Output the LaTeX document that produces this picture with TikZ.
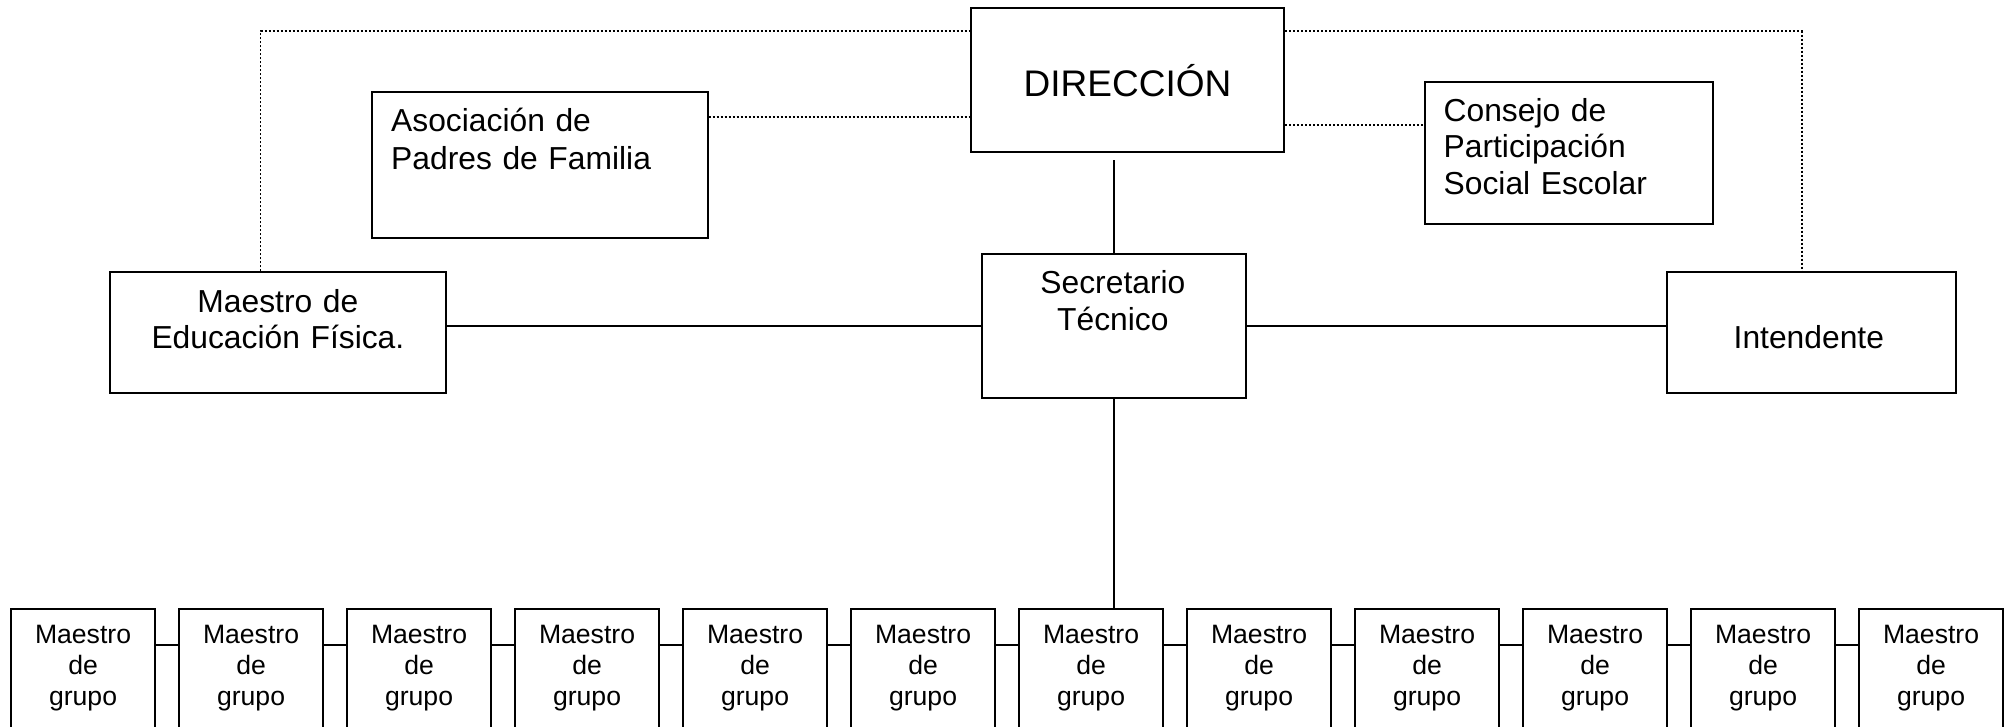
\documentclass[tikz,border=0pt]{standalone}
\usepackage{fontspec}
\setmainfont{Liberation Sans}
\begin{document}
\begin{tikzpicture}[x=1pt,y=-1pt,
  caja/.style={draw,line width=2pt,inner sep=0pt},
  texto/.style={inner sep=0pt,text width=#1},
  linea/.style={line width=1.8pt},
  punteado/.style={line width=1.7pt,dash pattern=on 2.2pt off 1.8pt}]
\useasboundingbox (0,0) rectangle (2008,726);
\clip (0,0) rectangle (2008,726);
\fill[white] (0,0) rectangle (2008,726);

% cajas de arriba
\node[caja,minimum width=313pt,minimum height=144pt] (dir) at (1127.5,80) {};
\node[texto=300pt,align=center,anchor=base,font=\fontsize{37}{42}\selectfont] (dirT) at ([yshift=-89.3pt]dir.north) {DIRECCIÓN};

\node[caja,minimum width=336pt,minimum height=146pt] (apf) at (539.5,165.2) {};
\node[texto=300pt,align=left,anchor=base west,font=\fontsize{31.8}{37.5}\selectfont] (apfT) at ([xshift=20.5pt,yshift=-40.3pt]apf.north west) {Asociación de\\Padres de Familia};

\node[caja,minimum width=288.7pt,minimum height=142pt] (cps) at (1569,152.7) {};
\node[texto=270pt,align=left,anchor=base west,font=\fontsize{31.8}{36.6}\selectfont] (cpsT) at ([xshift=19.8pt,yshift=-40.3pt]cps.north west) {Consejo de\\Participación\\Social Escolar};

\node[caja,minimum width=336.8pt,minimum height=121pt] (mef) at (277.9,332.8) {};
\node[texto=320pt,align=center,anchor=base,font=\fontsize{31.8}{36}\selectfont] (mefT) at ([yshift=-41pt]mef.north) {Maestro de\\Educación Física.};

\node[caja,minimum width=264.4pt,minimum height=144pt] (sec) at (1113.8,326.3) {};
\node[texto=250pt,align=center,anchor=base,font=\fontsize{31.8}{37.7}\selectfont] (secT) at ([xshift=-0.9pt,yshift=-39.7pt]sec.north) {Secretario\\Técnico};

\node[caja,minimum width=288.2pt,minimum height=121pt] (int) at (1811.4,332.8) {};
\node[texto=270pt,align=center,anchor=base,font=\fontsize{31.8}{37}\selectfont] (intT) at ([xshift=-2.6pt,yshift=-77pt]int.north) {Intendente};

% maestros de grupo
\foreach \i in {1,...,12}
 {\node[caja,minimum width=144.3pt,minimum height=160pt] (g\i) at ({83.05+168*(\i-1)},688.5) {};
  \node[texto=140pt,align=center,anchor=base,font=\fontsize{26.6}{31}\selectfont] (gT\i) at ([yshift=-35.5pt]g\i.north) {Maestro\\de\\grupo};
 };
\foreach \i [count=\j from 2] in {1,...,11}
 \draw[linea] ([yshift=-37.5pt]g\i.north east) -- ([yshift=-37.5pt]g\j.north west);

% lineas
\coordinate (dirS) at ([yshift=-7pt]dir.south);
\draw[linea] (sec.north) -- (sec.north |- dirS);
\draw[linea] (sec.west) -- (sec.west -| mef.east);
\draw[linea] (sec.east) -- (sec.east -| int.west);
\draw[linea] (sec.south) -- (sec.south |- g7.north);

\coordinate (apfR) at ([yshift=48.5pt]apf.east);
\coordinate (dirR) at ([yshift=-45pt]dir.east);
\draw[punteado] (apfR) -- (apfR -| dir.west);
\draw[punteado] (dirR) -- (dirR -| cps.west);
\draw[punteado] ([xshift=-17.3pt]mef.north) |- ([yshift=-24.3pt]dir.north west);
\draw[punteado] ([yshift=-24.3pt]dir.north east) -| ([xshift=-9.6pt]int.north);
\end{tikzpicture}
\end{document}
